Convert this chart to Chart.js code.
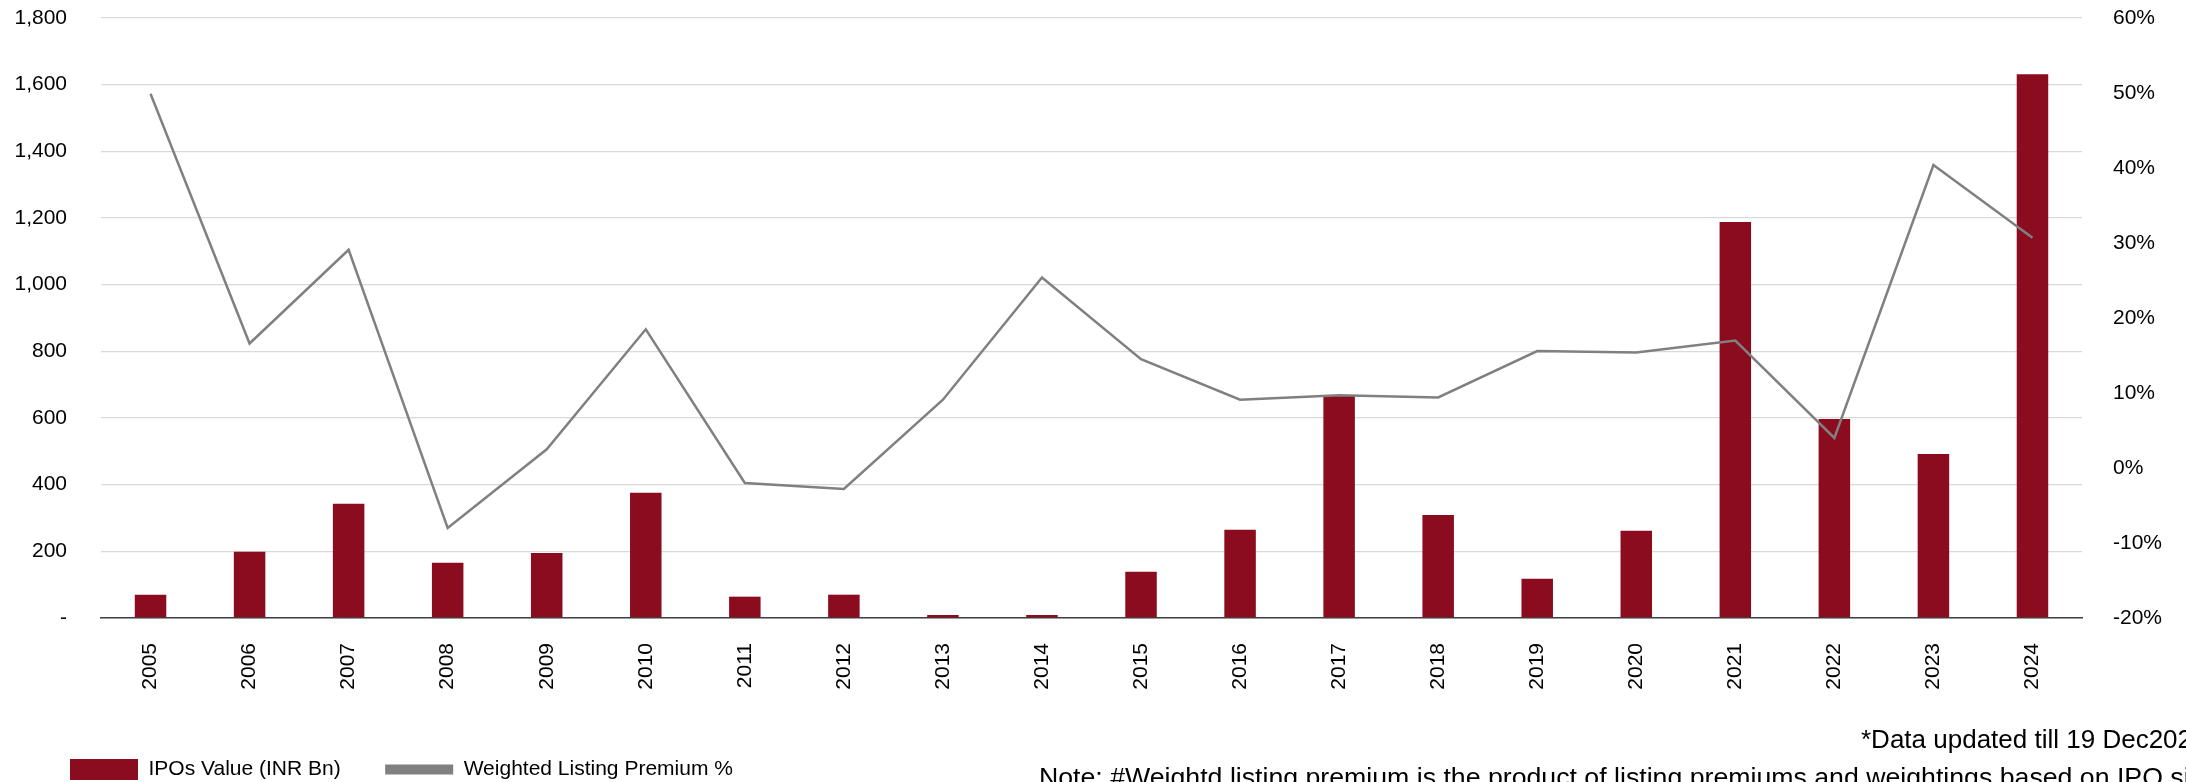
<!DOCTYPE html>
<html>
<head>
<meta charset="utf-8">
<title>IPO value and weighted listing premium</title>
<script src="https://cdn.jsdelivr.net/npm/chart.js"></script>
<style>
  html, body {
    margin: 0;
    padding: 0;
    background: #fff;
    overflow: hidden;
  }
  .wrap {
    position: relative;
    width: 2186px;
    height: 782px;
    overflow: hidden;
  }
  .note {
    position: absolute;
    font-family: "Liberation Sans", Arial, sans-serif;
    font-size: 26px;
    line-height: 31px;
    color: #000;
    white-space: nowrap;
  }
</style>
</head>
<body>
<div class="wrap">
  <canvas id="ipoChart" width="2186" height="782"></canvas>
  <div class="note" style="left:1861px; top:724px;">*Data updated till 19 Dec2024</div>
  <div class="note" style="left:1039px; top:762px; font-size:26.7px;">Note: #Weightd listing premium is the product of listing premiums and weightings based on IPO size</div>
</div>

<script>
"use strict";

const years = ["2005", "2006", "2007", "2008", "2009", "2010", "2011", "2012", "2013", "2014",
  "2015", "2016", "2017", "2018", "2019", "2020", "2021", "2022", "2023", "2024"];

// IPOs value, INR bn
const ipoValue = [70, 199, 343, 166, 195, 376, 64, 70, 9, 9,
  139, 265, 666, 309, 118, 262, 1188, 597, 492, 1631];

// weighted listing premium, %
const listingPremium = [49.9, 16.6, 29.1, -8.0, 2.5, 18.5, -2.0, -2.8, 9.1, 25.4,
  14.5, 9.1, 9.7, 9.4, 15.6, 15.4, 17.0, 4.0, 40.4, 30.7];

const leftTicks = [0, 1800, 200];   // min, max, step
const rightTicks = [-20, 60, 10];

const barColor = "#8B0C1F";
const lineColor = "#808080";
const font = "'Liberation Sans', Arial, sans-serif";

const ctx = document.getElementById("ipoChart");

const baseLabels = Chart.defaults.plugins.legend.labels.generateLabels;

// push the legend a bit to the right, like the original
const legendShift = {
  id: "legendShift",
  afterLayout(chart) {
    chart.legend.left += 25.5;
  },
};

// tick padding is only meant to move labels sideways here
function noVerticalPadding(scale) {
  scale.paddingTop = 12;
  scale.paddingBottom = 12;
}

new Chart(ctx, {
  type: "bar",
  data: {
    labels: years,
    datasets: [
      {
        type: "bar",
        label: "IPOs Value (INR Bn)",
        data: ipoValue,
        backgroundColor: barColor,
        borderWidth: 0,
        barPercentage: 0.318,
        categoryPercentage: 1,
        pointStyle: "rect",
        yAxisID: "y",
        order: 1,
      },
      {
        type: "line",
        label: "Weighted Listing Premium %",
        data: listingPremium,
        borderColor: lineColor,
        backgroundColor: lineColor,
        borderWidth: 2.5,
        pointRadius: 0,
        tension: 0,
        pointStyle: "line",
        yAxisID: "y1",
        order: 0,
      },
    ],
  },
  plugins: [legendShift],
  options: {
    responsive: false,
    animation: false,
    layout: {
      padding: { left: 0, right: 0, top: 18, bottom: -8 },
    },
    plugins: {
      tooltip: { enabled: false },
      legend: {
        position: "bottom",
        align: "start",
        labels: {
          usePointStyle: true,
          pointStyleWidth: 68,
          boxHeight: 21,
          padding: 44.5,
          color: "#000",
          font: { family: font, size: 21 },
          sort: (a, b) => a.datasetIndex - b.datasetIndex,
          generateLabels: function(chart) {
            const items = baseLabels(chart);
            items.forEach((item) => {
              if (item.datasetIndex === 1) {
                item.lineWidth = 10;
                item.strokeStyle = lineColor;
              } else {
                item.lineWidth = 0;
                item.fillStyle = barColor;
              }
            });
            return items;
          },
        },
      },
    },
    scales: {
      x: {
        grid: { display: false, drawTicks: false },
        border: { display: true, color: "#404040", width: 1.5 },
        ticks: {
          color: "#000",
          font: { family: font, size: 21 },
          minRotation: 90,
          maxRotation: 90,
          autoSkip: false,
          padding: 25,
        },
        afterFit: function(scale) {
          scale.height = 96.5;
        },
      },
      y: {
        position: "left",
        min: leftTicks[0],
        max: leftTicks[1],
        grid: { color: "#D9D9D9", lineWidth: 1.3, drawTicks: false },
        border: { display: false },
        ticks: {
          stepSize: leftTicks[2],
          color: "#000",
          padding: 34,
          font: { family: font, size: 21 },
          callback: function(value) {
            if (value === 0) return "-";
            return value.toLocaleString("en-US");
          },
        },
        afterFit: function(scale) {
          scale.width = 101;
          noVerticalPadding(scale);
        },
      },
      y1: {
        position: "right",
        min: rightTicks[0],
        max: rightTicks[1],
        grid: { display: false, drawOnChartArea: false, drawTicks: false },
        border: { display: false },
        ticks: {
          stepSize: rightTicks[2],
          color: "#000",
          padding: 31,
          font: { family: font, size: 21 },
          callback: function(value) {
            return value + "%";
          },
        },
        afterFit: function(scale) {
          scale.width = 104;
          noVerticalPadding(scale);
        },
      },
    },
  },
});
</script>
</body>
</html>
